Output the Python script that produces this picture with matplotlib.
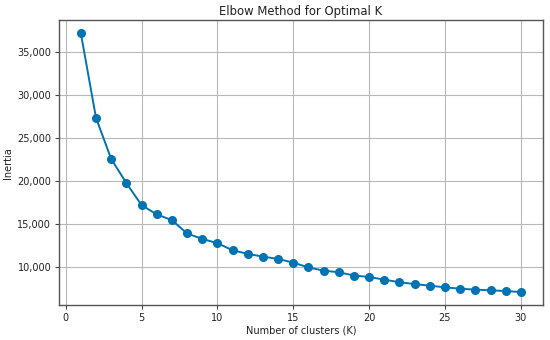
import matplotlib
matplotlib.use("Agg")
import matplotlib.pyplot as plt
from matplotlib.ticker import FuncFormatter

k_values = list(range(1, 31))
inertia = [37200, 27370, 22590, 19790, 17230, 16150, 15480, 13930, 13300, 12800,
           11980, 11560, 11240, 10970, 10540, 9980, 9610, 9420, 9040, 8870,
           8560, 8260, 8050, 7860, 7670, 7510, 7400, 7320, 7240, 7120]

fig, ax = plt.subplots(figsize=(5.5, 3.4), dpi=100)
ax.plot(k_values, inertia, marker="o", color="#0173b2", linewidth=1.4, markersize=5.5)
ax.set_title("Elbow Method for Optimal K", fontsize=8.4, color="#222222", pad=4)
ax.set_xlabel("Number of clusters (K)", fontsize=7, color="#222222", labelpad=2)
ax.set_ylabel("Inertia", fontsize=7, color="#222222", labelpad=3)
ax.tick_params(labelsize=7, labelcolor="#222222", color="#444444", length=3, pad=2.5)
ax.yaxis.set_major_formatter(FuncFormatter(lambda v, _: f"{v:,.0f}"))
ax.grid(True, color="#b8b8b8", linewidth=0.8)
for spine in ax.spines.values():
    spine.set_color("#555555")
    spine.set_linewidth(1.0)
fig.subplots_adjust(left=0.107, right=0.987, top=0.94, bottom=0.103)
fig.savefig("out.png")
